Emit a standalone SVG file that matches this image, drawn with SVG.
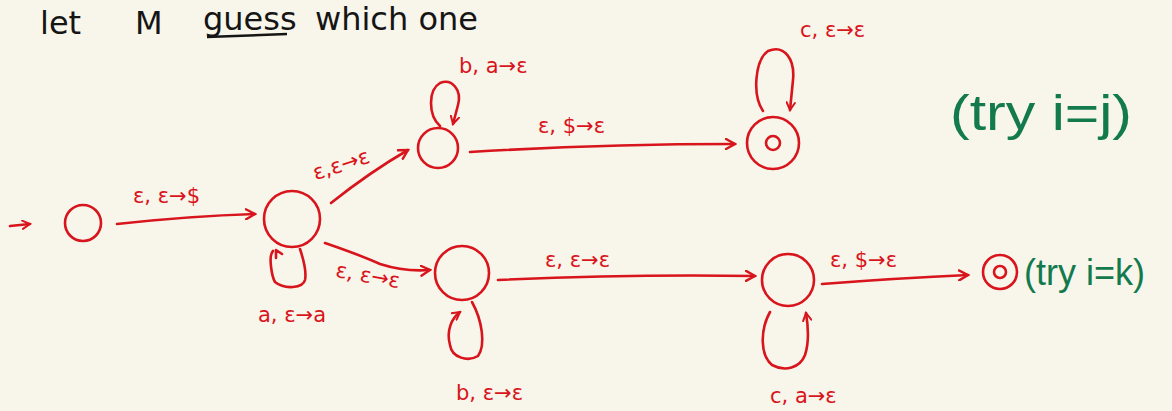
<svg xmlns="http://www.w3.org/2000/svg" width="1172" height="411" viewBox="0 0 1172 411">
<style>
.st{fill:none;stroke:#d8141c;stroke-width:2.6;stroke-linecap:round;stroke-linejoin:round}
.lb{font-family:"DejaVu Sans","Liberation Sans",sans-serif;font-size:21px;fill:#d8141c}
.gr{font-family:"Liberation Sans","DejaVu Sans",sans-serif;fill:#137a4e}
.bk{font-family:"DejaVu Sans","Liberation Sans",sans-serif;font-size:32px;fill:#151515}
</style>
<defs>
<marker id="ah" viewBox="0 0 12 12" refX="10" refY="6" markerWidth="12" markerHeight="12" markerUnits="userSpaceOnUse" orient="auto">
<path d="M1,1 L10,6 L1,11" fill="none" stroke="#d8141c" stroke-width="2.4" stroke-linecap="round"/>
</marker>
<marker id="ahs" viewBox="0 0 12 12" refX="10" refY="6" markerWidth="10" markerHeight="10" markerUnits="userSpaceOnUse" orient="auto">
<path d="M1,1 L10,6 L1,11" fill="none" stroke="#d8141c" stroke-width="2.4" stroke-linecap="round"/>
</marker>
</defs>
<rect width="1172" height="411" fill="#f8f5ea"/>
<g id="title">
<text class="bk" x="40" y="34">let</text>
<text class="bk" x="135" y="34">M</text>
<text class="bk" x="203" y="30">guess</text>
<text class="bk" x="315" y="30">which one</text>
<path d="M207,37 L287,34" stroke="#151515" stroke-width="2.5" fill="none"/>
</g>
<g id="connectors">
<path class="st" d="M10,226 L30,224" marker-end="url(#ahs)"/>
<path class="st" d="M117,224 Q190,216 255,214" marker-end="url(#ah)"/>
<path class="st" d="M331,203 Q370,172 408,150" marker-end="url(#ah)"/>
<path class="st" d="M325,243 Q360,255 380,264 Q405,272 430,270" marker-end="url(#ah)"/>
<path class="st" d="M470,152 Q600,144 735,144" marker-end="url(#ah)"/>
<path class="st" d="M498,280 Q630,274 755,276" marker-end="url(#ah)"/>
<path class="st" d="M822,284 Q900,278 968,275" marker-end="url(#ah)"/>
<path class="st" d="M273,251 C268,256 272,277 275,282 C285,290 303,288 305,280 C307,270 303,258 300,249" />
<path class="st" d="M276,258 L276,250 L282,254"/>
<path class="st" d="M440,126 C428,115 428,90 440,83 C452,78 462,90 458,105 L453,124" marker-end="url(#ahs)"/>
<path class="st" d="M763,111 C752,95 755,60 768,51 C785,44 795,60 793,80 L790,110" marker-end="url(#ahs)"/>
<path class="st" d="M472,302 C482,320 486,345 478,356 C468,362 452,358 450,345 C446,330 452,318 460,312" marker-end="url(#ahs)"/>
<path class="st" d="M770,312 C760,330 760,355 772,365 C785,372 800,368 805,355 C810,340 808,325 806,313" marker-end="url(#ahs)"/>
</g>
<g id="q0"><circle class="st" cx="83" cy="223" r="18"/></g>
<g id="q1"><circle class="st" cx="292" cy="219" r="28"/></g>
<g id="q2"><circle class="st" cx="438" cy="148" r="20"/></g>
<g id="q3"><circle class="st" cx="773" cy="143" r="26"/><circle class="st" cx="773" cy="143" r="7"/></g>
<g id="q4"><circle class="st" cx="462" cy="273" r="27"/></g>
<g id="q5"><circle class="st" cx="788" cy="280" r="26"/></g>
<g id="q6"><circle class="st" cx="1000" cy="272" r="17"/><circle class="st" cx="1000" cy="272" r="6"/></g>
<g id="labels">
<text class="lb" x="133" y="203">ε, ε→$</text>
<text class="lb" x="258" y="322">a, ε→a</text>
<text class="lb" x="312" y="172" transform="rotate(-18 340 165)">ε,ε→ε</text>
<text class="lb" x="459" y="73">b, a→ε</text>
<text class="lb" x="538" y="133">ε, $→ε</text>
<text class="lb" x="800" y="37">c, ε→ε</text>
<text class="lb" x="335" y="283" transform="rotate(10 370 278)">ε, ε→ε</text>
<text class="lb" x="456" y="400">b, ε→ε</text>
<text class="lb" x="545" y="267">ε, ε→ε</text>
<text class="lb" x="770" y="403">c, a→ε</text>
<text class="lb" x="830" y="267">ε, $→ε</text>
</g>
<g id="notes">
<text class="gr" x="950" y="130" font-size="50" textLength="182" lengthAdjust="spacingAndGlyphs">(try i=j)</text>
<text class="gr" x="1024" y="285" font-size="36">(try i=k)</text>
</g>
</svg>
